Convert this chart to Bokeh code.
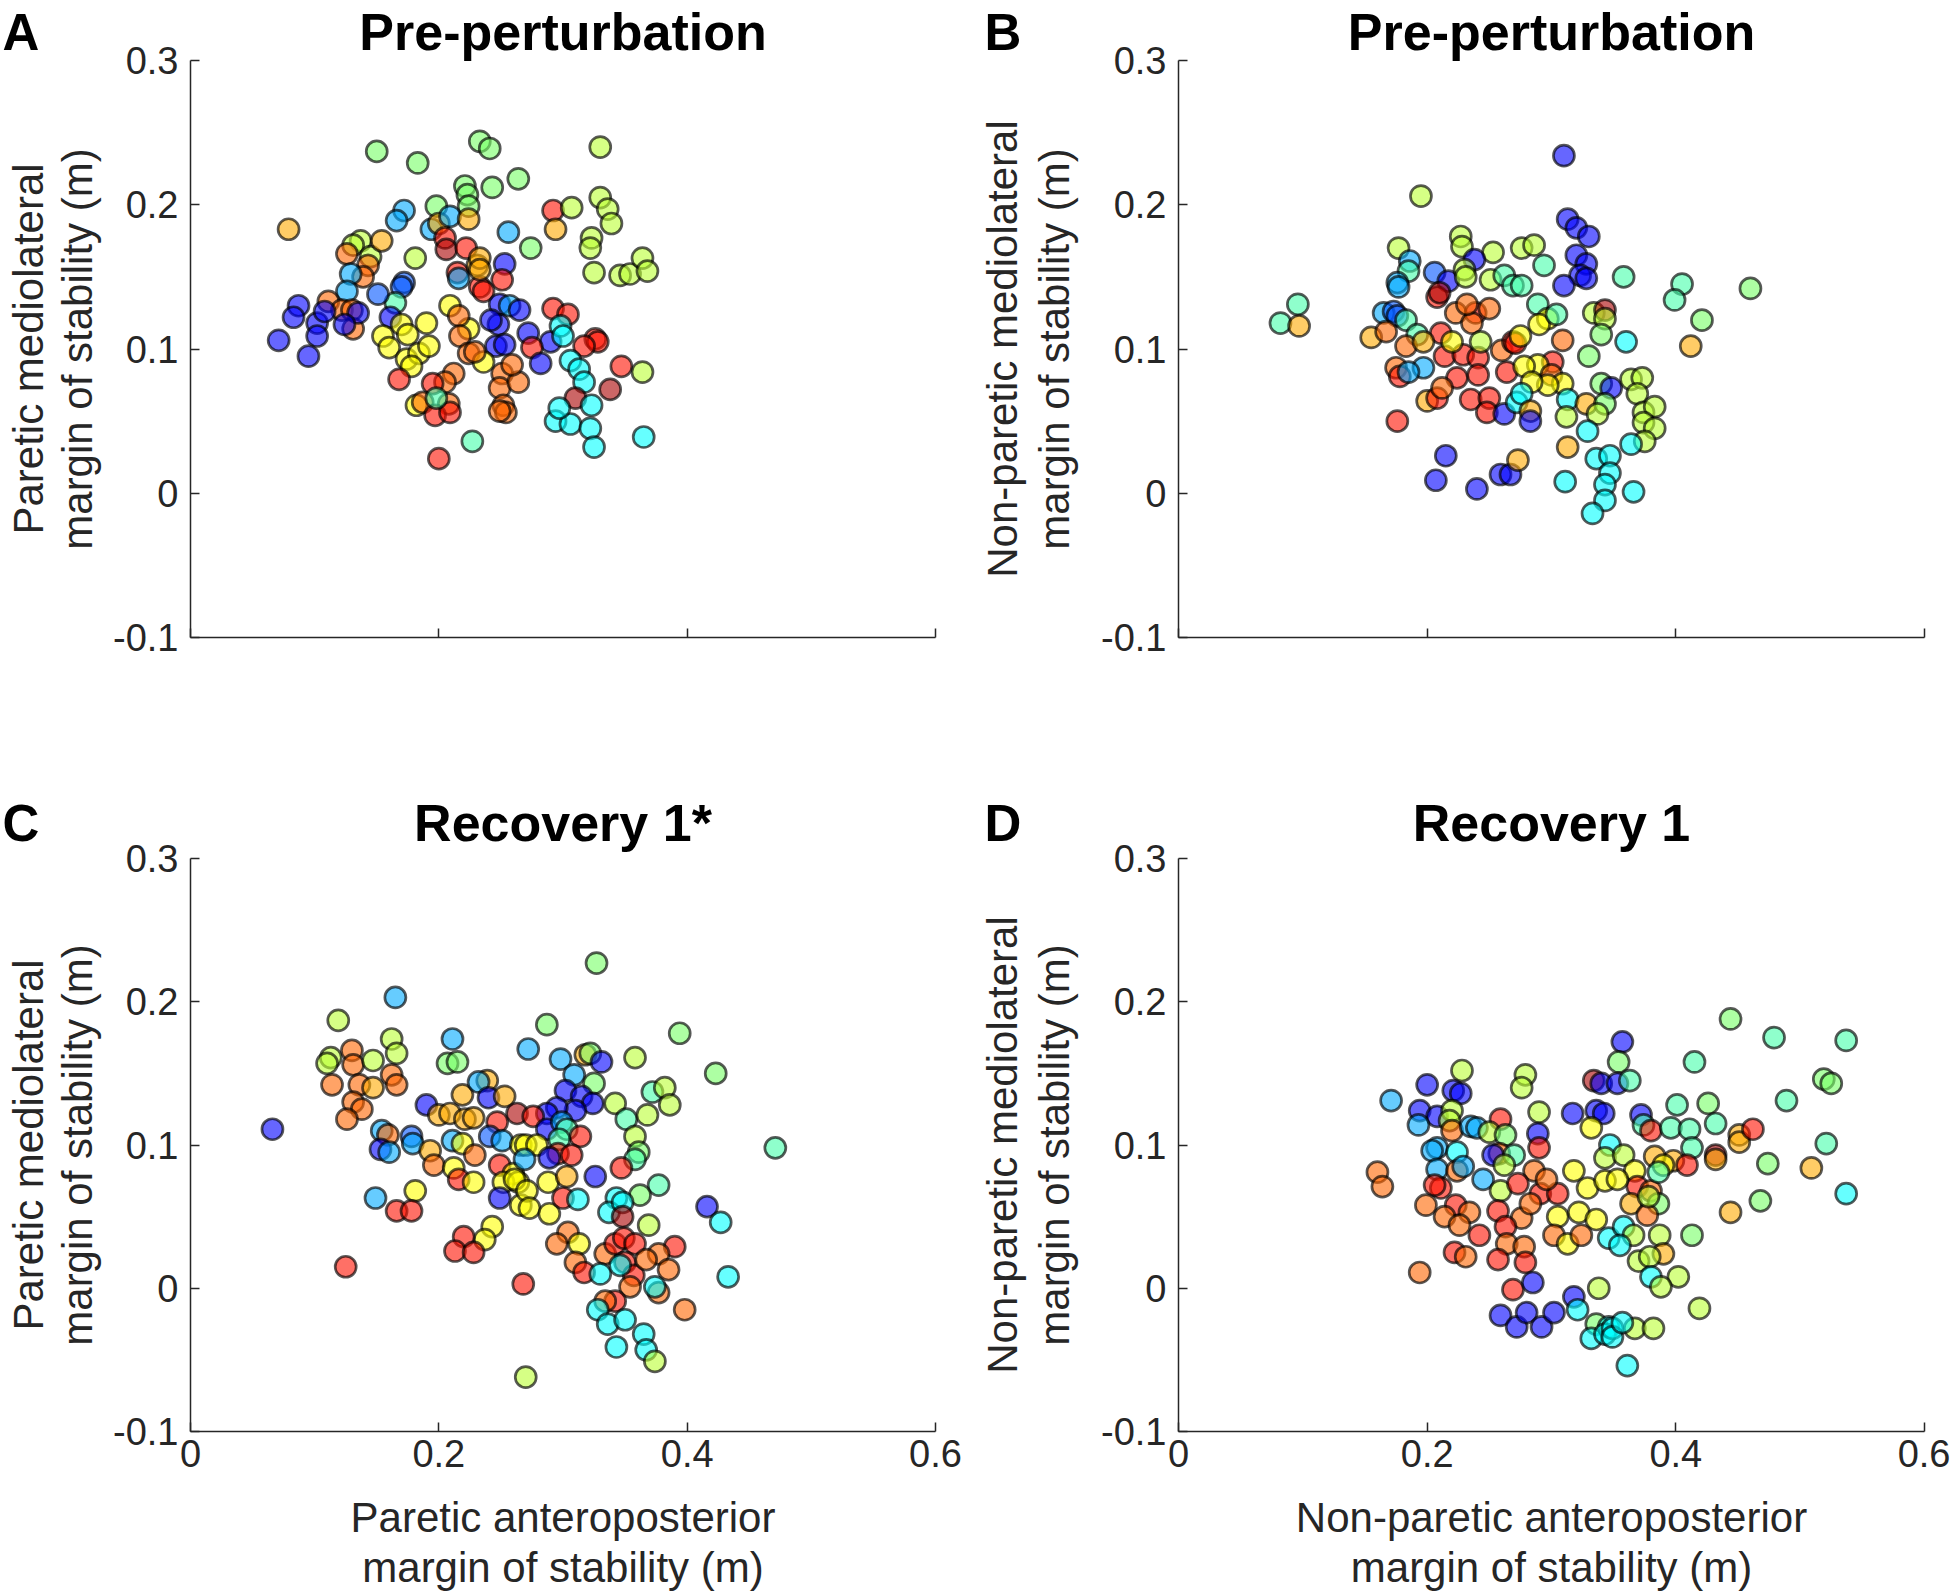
from bokeh.plotting import figure
from bokeh.models import Range1d, FixedTicker, ColumnDataSource, CustomJSTickFormatter, LinearAxis, Title
from bokeh.layouts import column, row
from bokeh.embed import file_html
from bokeh.resources import INLINE

# ---------------- data ----------------
SUBJECT_COLORS = {
    "bl": "#0000ff", "az": "#0055ff", "lb": "#00aaff", "cy": "#00ffff",
    "mi": "#44ffaa", "lg": "#77ff66", "yg": "#bbff33", "ye": "#ffff00",
    "go": "#ffaa00", "or": "#ff6600", "rd": "#ff1100", "dr": "#aa0000",
}

TITLES = ["Pre-perturbation", "Pre-perturbation", "Recovery 1*", "Recovery 1"]
LETTERS = ["A", "B", "C", "D"]
YLABELS = [("Paretic mediolateral", "margin of stability (m)"),
           ("Non-paretic mediolateral", "margin of stability (m)"),
           ("Paretic mediolateral", "margin of stability (m)"),
           ("Non-paretic mediolateral", "margin of stability (m)")]
XLABELS = [None, None,
           ("Paretic anteroposterior", "margin of stability (m)"),
           ("Non-paretic anteroposterior", "margin of stability (m)")]
X_TICKS = [0, 0.2, 0.4, 0.6]
Y_TICKS = [-0.1, 0, 0.1, 0.2, 0.3]

# Panel A: paretic, pre-perturbation
A_AP = [0.150,0.183,0.233,0.241,0.221,0.223,0.224,0.198,0.172,0.166,
        0.079,0.194,0.200,0.209,0.224,0.205,0.206,0.222,0.137,0.131,
        0.145,0.154,0.126,0.181,0.143,0.139,0.129,0.215,0.216,0.231,
        0.172,0.170,0.165,0.151,0.126,0.111,0.122,0.130,0.131,0.087,
        0.083,0.102,0.102,0.071,0.095,0.108,0.135,0.124,0.161,0.170,
        0.175,0.190,0.155,0.160,0.174,0.184,0.178,0.192,0.209,0.224,
        0.216,0.217,0.224,0.168,0.212,0.205,0.195,0.182,0.187,0.208,
        0.197,0.209,0.198,0.227,0.200,0.233,0.330,0.264,0.243,0.292,
        0.307,0.294,0.330,0.336,0.339,0.323,0.322,0.256,0.274,0.325,
        0.346,0.354,0.364,0.368,0.233,0.233,0.253,0.251,0.236,0.249,
        0.257,0.265,0.292,0.304,0.248,0.242,0.272,0.290,0.275,0.282,
        0.246,0.253,0.298,0.300,0.326,0.328,0.317,0.306,0.313,0.317,
        0.347,0.364,0.338,0.310,0.323,0.294,0.306,0.322,0.325,0.365,
        0.297,0.251,0.249,0.264,0.259,0.252,0.254,0.249,0.236,0.229]
A_ML = [0.237,0.229,0.244,0.239,0.213,0.207,0.199,0.199,0.196,0.189,
        0.183,0.183,0.187,0.192,0.190,0.177,0.169,0.170,0.175,0.172,
        0.164,0.175,0.166,0.163,0.158,0.150,0.152,0.153,0.149,0.158,
        0.146,0.143,0.132,0.138,0.140,0.133,0.127,0.127,0.114,0.130,
        0.122,0.118,0.109,0.106,0.095,0.126,0.125,0.117,0.122,0.117,
        0.110,0.118,0.109,0.101,0.093,0.097,0.088,0.102,0.130,0.114,
        0.123,0.109,0.097,0.079,0.083,0.077,0.076,0.061,0.063,0.062,
        0.054,0.056,0.066,0.036,0.024,0.143,0.240,0.218,0.212,0.196,
        0.198,0.183,0.205,0.197,0.187,0.177,0.170,0.181,0.170,0.153,
        0.151,0.152,0.163,0.154,0.163,0.155,0.159,0.148,0.140,0.131,
        0.130,0.127,0.128,0.124,0.117,0.120,0.111,0.105,0.101,0.090,
        0.102,0.103,0.116,0.109,0.107,0.105,0.102,0.092,0.086,0.077,
        0.088,0.084,0.072,0.066,0.061,0.050,0.048,0.045,0.032,0.039,
        0.059,0.083,0.073,0.077,0.089,0.061,0.056,0.057,0.091,0.098]
A_SUBJ = ["lg","lg","lg","lg","lg","lg","lg","lg","lb","lb",
          "go","lb","go","lb","go","rd","dr","rd","yg","yg",
          "yg","go","or","yg","or","or","lb","rd","lb","go",
          "az","az","mi","az","lb","or","or","or","or","bl",
          "bl","bl","bl","bl","bl","bl","bl","bl","bl","ye",
          "ye","ye","ye","ye","ye","ye","ye","ye","ye","ye",
          "or","or","or","rd","or","or","rd","ye","or","or",
          "rd","rd","mi","mi","rd","rd","yg","lg","lg","rd",
          "yg","go","yg","yg","yg","yg","yg","lb","lg","yg",
          "yg","yg","yg","yg","go","go","bl","rd","rd","bl",
          "lb","bl","rd","rd","bl","bl","bl","bl","rd","bl",
          "bl","bl","cy","cy","rd","rd","rd","cy","cy","cy",
          "rd","yg","dr","dr","cy","cy","cy","cy","cy","cy",
          "cy","or","or","or","or","or","or","or","ye","or"]

# Panel B: non-paretic, pre-perturbation
B_AP = [0.195,0.096,0.082,0.097,0.177,0.227,0.228,0.253,0.238,0.186,
        0.185,0.206,0.217,0.176,0.177,0.230,0.231,0.251,0.262,0.269,
        0.208,0.210,0.165,0.173,0.176,0.183,0.223,0.239,0.250,0.236,
        0.232,0.155,0.167,0.211,0.192,0.183,0.197,0.175,0.178,0.197,
        0.185,0.214,0.229,0.241,0.220,0.243,0.224,0.241,0.264,0.260,
        0.269,0.200,0.208,0.212,0.235,0.250,0.248,0.262,0.272,0.176,
        0.215,0.207,0.240,0.259,0.267,0.273,0.276,0.310,0.313,0.320,
        0.330,0.320,0.328,0.323,0.328,0.310,0.286,0.294,0.358,0.405,
        0.399,0.460,0.421,0.412,0.276,0.289,0.297,0.290,0.304,0.334,
        0.343,0.343,0.340,0.330,0.360,0.309,0.271,0.275,0.301,0.289,
        0.300,0.278,0.309,0.297,0.284,0.276,0.283,0.283,0.313,0.312,
        0.328,0.340,0.348,0.343,0.337,0.329,0.364,0.373,0.369,0.374,
        0.383,0.374,0.383,0.375,0.364,0.313,0.336,0.347,0.347,0.343,
        0.311,0.366,0.343,0.333]
B_ML = [0.206,0.131,0.118,0.116,0.170,0.178,0.171,0.167,0.162,0.161,
        0.154,0.153,0.147,0.146,0.143,0.155,0.150,0.148,0.151,0.144,
        0.136,0.139,0.125,0.126,0.123,0.120,0.125,0.125,0.128,0.118,
        0.131,0.108,0.112,0.111,0.110,0.102,0.105,0.087,0.081,0.087,
        0.084,0.095,0.096,0.094,0.105,0.105,0.080,0.082,0.084,0.099,
        0.105,0.064,0.066,0.073,0.065,0.066,0.056,0.055,0.063,0.050,
        0.026,0.009,0.003,0.013,0.013,0.023,0.170,0.234,0.190,0.184,
        0.178,0.165,0.159,0.151,0.149,0.144,0.172,0.158,0.150,0.145,
        0.134,0.142,0.120,0.102,0.144,0.131,0.121,0.117,0.124,0.125,
        0.127,0.121,0.110,0.095,0.105,0.106,0.104,0.109,0.091,0.089,
        0.082,0.088,0.076,0.075,0.077,0.069,0.057,0.050,0.065,0.053,
        0.062,0.076,0.073,0.062,0.055,0.043,0.079,0.080,0.069,0.056,
        0.060,0.049,0.045,0.036,0.034,0.032,0.024,0.026,0.014,0.006,
        0.008,0.001,-0.005,-0.014]
B_SUBJ = ["yg","mi","mi","go","yg","yg","yg","yg","bl","lb",
          "mi","az","bl","lb","lb","yg","yg","yg","mi","mi",
          "rd","dr","lb","az","az","mi","or","rd","or","or",
          "or","go","or","rd","mi","or","go","or","rd","lb",
          "lb","rd","rd","rd","ye","yg","rd","rd","rd","or",
          "rd","go","rd","or","rd","rd","rd","bl","cy","rd",
          "bl","bl","bl","bl","bl","go","yg","bl","bl","bl",
          "bl","bl","bl","bl","bl","bl","yg","mi","mi","mi",
          "mi","lg","lg","go","mi","mi","ye","ye","mi","yg",
          "dr","yg","lg","lg","cy","or","rd","ye","rd","ye",
          "or","ye","ye","ye","ye","cy","go","bl","cy","yg",
          "go","lg","bl","lg","yg","cy","yg","yg","yg","yg",
          "yg","yg","yg","yg","cy","go","cy","cy","cy","cy",
          "cy","cy","cy","cy"]

# Panel C: paretic, recovery 1
C_AP = [0.165,0.119,0.211,0.162,0.166,0.130,0.131,0.113,0.110,0.147,
        0.207,0.215,0.114,0.136,0.147,0.162,0.166,0.131,0.138,0.126,
        0.066,0.190,0.200,0.209,0.219,0.239,0.232,0.240,0.253,0.221,
        0.228,0.263,0.247,0.154,0.159,0.153,0.160,0.178,0.179,0.193,
        0.196,0.211,0.219,0.229,0.241,0.251,0.212,0.216,0.228,0.249,
        0.260,0.252,0.249,0.266,0.266,0.264,0.149,0.181,0.166,0.178,
        0.243,0.237,0.220,0.213,0.228,0.125,0.268,0.270,0.327,0.287,
        0.394,0.272,0.298,0.318,0.322,0.331,0.358,0.423,0.309,0.325,
        0.302,0.315,0.324,0.310,0.295,0.287,0.342,0.351,0.372,0.382,
        0.386,0.368,0.276,0.287,0.299,0.303,0.314,0.297,0.270,0.279,
        0.269,0.296,0.307,0.289,0.358,0.361,0.358,0.347,0.326,0.261,
        0.288,0.303,0.271,0.273,0.289,0.300,0.312,0.377,0.362,0.343,
        0.337,0.348,0.369,0.348,0.416,0.427,0.471,0.304,0.295,0.313,
        0.310,0.317,0.334,0.342,0.349,0.358,0.390,0.377,0.385,0.350,
        0.357,0.354,0.367,0.330,0.346,0.377,0.374,0.433,0.398,0.342,
        0.334,0.328,0.336,0.350,0.365,0.367,0.343,0.374]
C_ML = [0.203,0.187,0.174,0.174,0.164,0.166,0.156,0.161,0.157,0.159,
        0.157,0.158,0.142,0.142,0.140,0.149,0.142,0.130,0.125,0.118,
        0.111,0.128,0.121,0.122,0.135,0.145,0.144,0.133,0.134,0.118,
        0.119,0.122,0.116,0.110,0.107,0.097,0.095,0.106,0.101,0.096,
        0.086,0.103,0.101,0.093,0.106,0.103,0.084,0.076,0.074,0.086,
        0.080,0.074,0.063,0.100,0.058,0.074,0.063,0.068,0.054,0.054,
        0.043,0.034,0.036,0.026,0.025,0.015,0.003,-0.062,0.227,0.184,
        0.178,0.167,0.160,0.163,0.164,0.158,0.161,0.150,0.149,0.143,
        0.138,0.134,0.129,0.124,0.126,0.122,0.129,0.118,0.137,0.140,
        0.128,0.121,0.120,0.111,0.116,0.111,0.106,0.104,0.100,0.100,
        0.090,0.094,0.093,0.091,0.106,0.095,0.090,0.084,0.078,0.076,
        0.074,0.078,0.068,0.056,0.052,0.063,0.062,0.072,0.065,0.063,
        0.053,0.060,0.044,0.050,0.057,0.046,0.098,0.039,0.031,0.031,
        0.018,0.011,0.024,0.031,0.035,0.031,0.029,0.024,0.013,0.018,
        0.009,0.001,0.020,0.010,0.016,-0.003,0.001,0.008,-0.015,-0.009,
        -0.009,-0.015,-0.025,-0.022,-0.032,-0.043,-0.041,-0.051]
C_SUBJ = ["lb","yg","lb","yg","yg","or","or","yg","yg","yg",
          "lg","lg","or","or","go","or","or","or","or","or",
          "bl","bl","go","go","go","go","lb","bl","go","go",
          "go","dr","rd","lb","or","bl","lb","az","lb","go",
          "or","lb","ye","or","az","lb","ye","rd","ye","rd",
          "ye","ye","bl","ye","ye","ye","lb","ye","rd","rd",
          "ye","ye","rd","rd","rd","rd","rd","yg","lg","lg",
          "lg","lb","lb","go","lg","bl","yg","lg","lb","lg",
          "bl","bl","bl","bl","bl","bl","yg","mi","mi","yg",
          "yg","yg","rd","bl","lb","mi","rd","mi","ye","ye",
          "lb","rd","rd","bl","yg","lg","mi","rd","bl","ye",
          "ye","go","ye","ye","ye","rd","cy","mi","lg","cy",
          "cy","cy","yg","dr","bl","cy","mi","or","or","ye",
          "or","rd","or","rd","rd","rd","rd","or","or","rd",
          "rd","or","or","cy","cy","or","cy","cy","or","rd",
          "or","cy","cy","cy","cy","cy","cy","yg"]

# Panel D: non-paretic, recovery 1
D_AP = [0.171,0.200,0.228,0.221,0.227,0.279,0.276,0.334,0.340,0.194,
        0.208,0.193,0.220,0.218,0.220,0.235,0.240,0.259,0.290,0.317,
        0.336,0.342,0.332,0.250,0.263,0.289,0.290,0.208,0.204,0.224,
        0.258,0.253,0.270,0.262,0.208,0.224,0.229,0.286,0.245,0.160,
        0.164,0.211,0.206,0.259,0.273,0.291,0.305,0.296,0.318,0.329,
        0.343,0.199,0.223,0.234,0.214,0.226,0.257,0.276,0.283,0.305,
        0.322,0.336,0.263,0.242,0.302,0.313,0.324,0.264,0.278,0.222,
        0.231,0.257,0.279,0.194,0.269,0.285,0.259,0.272,0.280,0.292,
        0.302,0.318,0.321,0.338,0.336,0.332,0.346,0.343,0.346,0.347,
        0.343,0.444,0.479,0.537,0.357,0.354,0.415,0.519,0.525,0.353,
        0.363,0.401,0.426,0.489,0.372,0.374,0.380,0.396,0.411,0.432,
        0.451,0.451,0.462,0.413,0.432,0.432,0.398,0.409,0.521,0.474,
        0.509,0.537,0.468,0.444,0.413,0.419,0.358,0.383,0.390,0.367,
        0.369,0.380,0.353,0.386,0.364,0.377,0.386,0.378,0.358,0.366,
        0.355,0.387,0.370,0.390,0.379,0.402,0.380,0.388,0.367,0.382,
        0.349,0.349,0.357,0.361]
D_ML = [0.131,0.142,0.152,0.138,0.136,0.149,0.140,0.145,0.143,0.124,
        0.120,0.114,0.124,0.117,0.110,0.113,0.112,0.118,0.123,0.122,
        0.124,0.122,0.112,0.109,0.107,0.108,0.098,0.098,0.096,0.095,
        0.094,0.093,0.093,0.086,0.083,0.082,0.085,0.082,0.076,0.081,
        0.071,0.070,0.072,0.068,0.073,0.066,0.066,0.076,0.082,0.070,
        0.075,0.058,0.058,0.053,0.050,0.044,0.054,0.049,0.059,0.050,
        0.053,0.048,0.043,0.037,0.037,0.031,0.037,0.031,0.029,0.025,
        0.022,0.020,0.018,0.011,-0.001,0.004,-0.019,-0.027,-0.017,-0.027,
        -0.017,-0.006,-0.015,0.000,-0.025,-0.035,-0.027,-0.032,0.035,0.100,
        0.091,0.188,0.175,0.173,0.172,0.158,0.158,0.146,0.143,0.143,
        0.145,0.128,0.129,0.131,0.121,0.114,0.110,0.112,0.111,0.115,
        0.107,0.102,0.111,0.098,0.093,0.090,0.089,0.086,0.101,0.087,
        0.084,0.066,0.061,0.053,0.037,-0.014,0.093,0.092,0.086,0.082,
        0.071,0.068,0.076,0.059,0.059,0.051,0.081,0.064,0.043,0.037,
        0.030,0.037,0.019,0.024,0.022,0.008,0.008,0.001,-0.028,-0.028,
        -0.028,-0.034,-0.024,-0.054]
D_SUBJ = ["lb","bl","yg","bl","bl","yg","yg","dr","bl","bl",
          "bl","lb","yg","yg","or","lb","lb","rd","yg","bl",
          "bl","bl","ye","yg","lg","bl","rd","lb","lb","cy",
          "or","bl","mi","yg","lb","or","lb","or","lb","or",
          "or","rd","rd","yg","rd","rd","rd","or","ye","ye",
          "ye","or","rd","or","or","or","rd","or","or","ye",
          "ye","ye","rd","rd","or","ye","or","or","or","rd",
          "or","rd","rd","or","rd","bl","bl","bl","bl","bl",
          "bl","bl","cy","yg","lg","cy","cy","cy","cy","cy",
          "yg","lg","mi","mi","bl","lg","mi","lg","lg","bl",
          "mi","mi","lg","mi","bl","mi","rd","mi","mi","mi",
          "go","go","rd","mi","dr","go","go","rd","mi","lg",
          "go","cy","lg","go","lg","yg","yg","go","ye","ye",
          "rd","or","ye","lg","go","or","mi","yg","cy","yg",
          "cy","yg","yg","go","yg","yg","cy","yg","yg","yg",
          "cy","cy","cy","cy"]

PANELS = [(A_AP, A_ML, A_SUBJ), (B_AP, B_ML, B_SUBJ),
          (C_AP, C_ML, C_SUBJ), (D_AP, D_ML, D_SUBJ)]

# ---------------- styling / layout ----------------
FONT = "Liberation Sans"
AXC = "#262626"
FIG_W = 975
HEAD_PX = 51


def style_label(ax, standoff):
    ax.axis_label_text_font = FONT
    ax.axis_label_text_font_size = "42px"
    ax.axis_label_text_font_style = "normal"
    ax.axis_label_text_color = AXC
    ax.axis_label_standoff = standoff


def bare_axis(label, standoff):
    ax = LinearAxis(ticker=FixedTicker(ticks=[]), axis_label=label)
    ax.axis_line_color = None
    ax.major_tick_line_color = None
    ax.minor_tick_line_color = None
    ax.major_label_standoff = 0
    ax.major_tick_in = 0
    ax.major_tick_out = 0
    style_label(ax, standoff)
    return ax


def make_panel(idx):
    col = idx % 2
    bottom = idx >= 2
    ap, ml, subj = PANELS[idx]
    n = min(len(ap), len(ml), len(subj))
    if col == 0:
        mbl, mbr = 190, 40
        ystand = (9, 0)
        letter_off = -188
    else:
        mbl, mbr = 203, 26
        ystand = (20, 3)
        letter_off = -194
    if bottom:
        H, mbt, mbb = 805, 68, 164
        spacer_so = 13
    else:
        H, mbt, mbb = 790, 60, 153
        spacer_so = 6

    p = figure(width=FIG_W, height=H, x_range=Range1d(0, 0.6), y_range=Range1d(-0.1, 0.3),
               output_backend="svg", toolbar_location=None, title=None,
               min_border_left=mbl, min_border_right=mbr,
               min_border_top=mbt, min_border_bottom=mbb)
    p.outline_line_color = None
    p.xgrid.visible = False
    p.ygrid.visible = False
    p.background_fill_color = "white"
    p.border_fill_color = "white"

    for ax in (p.xaxis[0], p.yaxis[0]):
        ax.axis_line_color = AXC
        ax.axis_line_width = 1.5
        ax.major_tick_line_color = AXC
        ax.major_tick_line_width = 1.5
        ax.major_tick_in = 9
        ax.major_tick_out = 0
        ax.minor_tick_line_color = None
        ax.major_label_text_font = FONT
        ax.major_label_text_font_size = "38px"
        ax.major_label_text_color = AXC

    p.xaxis.ticker = FixedTicker(ticks=X_TICKS)
    p.yaxis.ticker = FixedTicker(ticks=Y_TICKS)
    p.yaxis.major_label_standoff = 12
    p.xaxis.major_label_standoff = 8
    fmt = "if (Math.abs(tick) < 1e-9) { return '0'; } return tick.toFixed(1);"
    p.yaxis.formatter = CustomJSTickFormatter(code=fmt)
    if bottom:
        p.xaxis.formatter = CustomJSTickFormatter(code=fmt)
    else:
        p.xaxis.formatter = CustomJSTickFormatter(code="return '';")

    # y axis label: line nearest the axis on the main axis, outer line on a bare axis
    line1, line2 = YLABELS[idx]
    p.yaxis.axis_label = line2
    style_label(p.yaxis[0], ystand[0])
    p.add_layout(bare_axis(line1, ystand[1]), "left")

    if XLABELS[idx] is not None:
        xl1, xl2 = XLABELS[idx]
        p.xaxis.axis_label = xl1
        style_label(p.xaxis[0], 24)
        p.add_layout(bare_axis(xl2, 0), "below")

    # header: a blank spacer panel, then zero-height panels for letter and title
    p.add_layout(Title(text=" ", text_font=FONT, text_font_size="20px",
                       standoff=spacer_so), "above")
    p.add_layout(Title(text=LETTERS[idx], align="left", offset=letter_off, standoff=-60,
                       text_font=FONT, text_font_style="bold",
                       text_font_size=f"{HEAD_PX}px", text_color="black"), "above")
    p.add_layout(Title(text=TITLES[idx], align="center", standoff=-60,
                       text_font=FONT, text_font_style="bold",
                       text_font_size=f"{HEAD_PX + 1}px", text_color="black"), "above")

    src = ColumnDataSource(dict(x=ap[:n], y=ml[:n],
                                c=[SUBJECT_COLORS[s] for s in subj[:n]]))
    p.scatter("x", "y", source=src, size=21, fill_color="c", fill_alpha=0.6,
              line_color="black", line_alpha=0.65, line_width=2.7)
    return p


figs = [make_panel(i) for i in range(4)]
layout = column(row(figs[0], figs[1]), row(figs[2], figs[3]))

open("out.html", "w").write(file_html(layout, INLINE))
